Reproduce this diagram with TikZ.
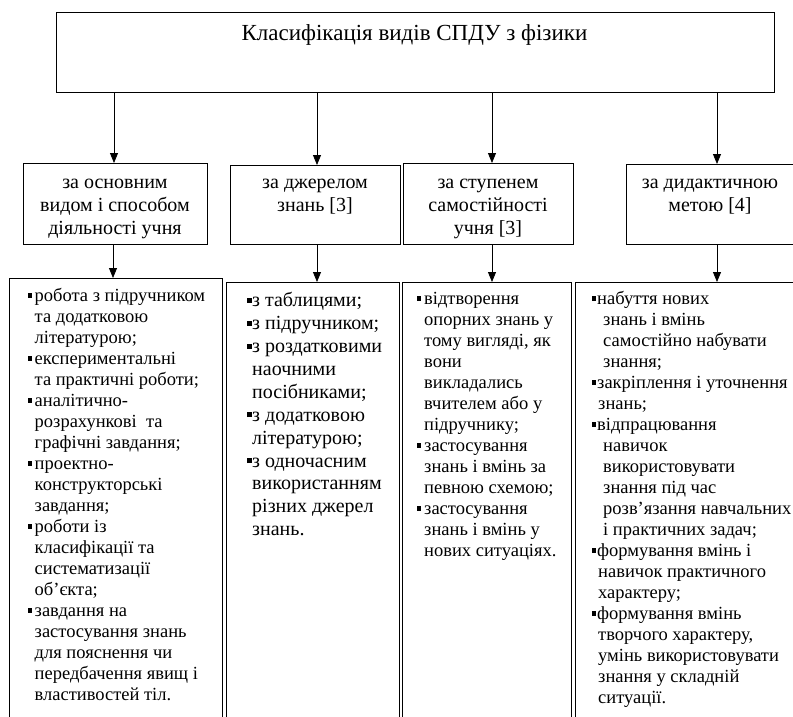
\documentclass[tikz,border=0pt]{standalone}
\usepackage{fontspec}
\setmainfont{Liberation Serif}
\usetikzlibrary{arrows.meta}
\newcommand\bsq[1]{\makebox[#1][l]{\rule[0.2em]{0.22em}{0.24em}}}
\newcommand\ind[1]{\hspace*{#1}}
\begin{document}
\begin{tikzpicture}[x=1pt,y=-1pt,
  boxst/.style={draw, line width=0.8pt, inner sep=0pt, anchor=north west},
  arr/.style={draw, line width=0.8pt, -{Triangle[width=8pt,length=10pt]}},
  cattext/.style={font=\fontsize{20}{23}\selectfont, align=center, anchor=north, inner sep=0pt},
  lista/.style={font=\fontsize{18.5}{21}\selectfont, align=left, anchor=north west, inner sep=0pt},
  listc/.style={font=\fontsize{20}{22.9}\selectfont, align=left, anchor=north west, inner sep=0pt}]
\useasboundingbox (0,0) rectangle (793,716);
\clip (0,0) rectangle (793,716);
% boxes
\node[boxst, minimum width=718pt, minimum height=80pt] (top) at (56,12) {};
\node[boxst, minimum width=184pt, minimum height=81pt] (c1) at (23,163) {};
\node[boxst, minimum width=170pt, minimum height=79pt] (c2) at (230,165) {};
\node[boxst, minimum width=170pt, minimum height=81pt] (c3) at (403,163) {};
\node[boxst, minimum width=169pt, minimum height=80pt] (c4) at (626,164) {};
\node[boxst, minimum width=213pt, minimum height=470pt] (l1) at (9,278) {};
\node[boxst, minimum width=173pt, minimum height=470pt] (l2) at (226,282) {};
\node[boxst, minimum width=169pt, minimum height=470pt] (l3) at (402,282) {};
\node[boxst, minimum width=220pt, minimum height=470pt] (l4) at (575,282) {};
% arrow columns
\coordinate (a1) at (114,0);
\coordinate (a2) at (317,0);
\coordinate (a3) at (492,0);
\coordinate (a4) at (717,0);
\coordinate (b1) at (113,0);
\draw[arr] (top.south -| a1) -- (c1.north -| a1);
\draw[arr] (top.south -| a2) -- (c2.north -| a2);
\draw[arr] (top.south -| a3) -- (c3.north -| a3);
\draw[arr] (top.south -| a4) -- (c4.north -| a4);
\draw[arr] (c1.south -| b1) -- (l1.north -| b1);
\draw[arr] (c2.south -| a2) -- (l2.north -| a2);
\draw[arr] (c3.south -| a3) -- (l3.north -| a3);
\draw[arr] (c4.south -| a4) -- (l4.north -| a4);
% texts
\node[font=\fontsize{23}{27}\selectfont, anchor=base, inner sep=0pt] (title) at (414.5,40) {Класифікація видів СПДУ з фізики};
\node[cattext] (t1) at (115,172.4) {\strut за основним\\видом і способом\\діяльності учня};
\node[cattext] (t2) at (315,172.4) {\strut за джерелом\\знань [3]};
\node[cattext] (t3) at (488,172.4) {\strut за ступенем\\самостійності\\учня [3]};
\node[cattext] (t4) at (710,172.4) {\strut за дидактичною\\метою [4]};
% lists
\node[lista] (x1) at (28,286.5) {\strut\bsq{6.5pt}робота з підручником\\
\ind{6.5pt}та додатковою\\
\ind{6.5pt}літературою;\\
\bsq{6.5pt}експериментальні\\
\ind{6.5pt}та практичні роботи;\\
\bsq{6.5pt}аналітично-\\
\ind{6.5pt}розрахункові\ \ та\\
\ind{6.5pt}графічні завдання;\\
\bsq{6.5pt}проектно-\\
\ind{6.5pt}конструкторські\\
\ind{6.5pt}завдання;\\
\bsq{6.5pt}роботи із\\
\ind{6.5pt}класифікації та\\
\ind{6.5pt}систематизації\\
\ind{6.5pt}об’єкта;\\
\bsq{6.5pt}завдання на\\
\ind{6.5pt}застосування знань\\
\ind{6.5pt}для пояснення чи\\
\ind{6.5pt}передбачення явищ і\\
\ind{6.5pt}властивостей тіл.};
\node[listc] (x2) at (247,290.5) {\strut\bsq{5pt}з таблицями;\\
\bsq{5pt}з підручником;\\
\bsq{5pt}з роздатковими\\
\ind{5pt}наочними\\
\ind{5pt}посібниками;\\
\bsq{5pt}з додатковою\\
\ind{5pt}літературою;\\
\bsq{5pt}з одночасним\\
\ind{5pt}використанням\\
\ind{5pt}різних джерел\\
\ind{5pt}знань.};
\node[lista] (x3) at (417,289.5) {\strut\bsq{7pt}відтворення\\
\ind{7pt}опорних знань у\\
\ind{7pt}тому вигляді, як\\
\ind{7pt}вони\\
\ind{7pt}викладались\\
\ind{7pt}вчителем або у\\
\ind{7pt}підручнику;\\
\bsq{7pt}застосування\\
\ind{7pt}знань і вмінь за\\
\ind{7pt}певною схемою;\\
\bsq{7pt}застосування\\
\ind{7pt}знань і вмінь у\\
\ind{7pt}нових ситуаціях.};
\node[lista] (x4) at (592,289.5) {\strut\bsq{5pt}набуття нових\\
\ind{11pt}знань і вмінь\\
\ind{11pt}самостійно набувати\\
\ind{11pt}знання;\\
\bsq{5pt}закріплення і уточнення\\
\ind{6pt}знань;\\
\bsq{5pt}відпрацювання\\
\ind{11pt}навичок\\
\ind{11pt}використовувати\\
\ind{11pt}знання під час\\
\ind{11pt}розв’язання навчальних\\
\ind{11pt}і практичних задач;\\
\bsq{5pt}формування вмінь і\\
\ind{6pt}навичок практичного\\
\ind{6pt}характеру;\\
\bsq{5pt}формування вмінь\\
\ind{6pt}творчого характеру,\\
\ind{6pt}умінь використовувати\\
\ind{6pt}знання у складній\\
\ind{6pt}ситуації.};
\end{tikzpicture}
\end{document}
